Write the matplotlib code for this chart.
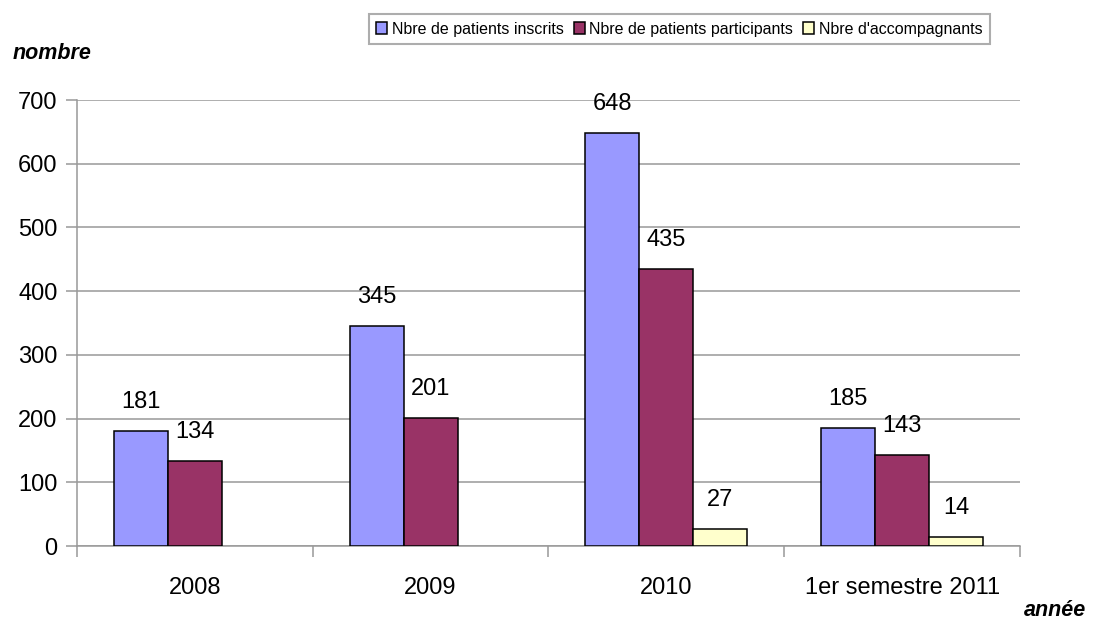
import numpy as np
import matplotlib.pyplot as plt

plt.rcParams['font.family'] = ['Liberation Sans', 'DejaVu Sans']

categories = ['2008', '2009', '2010', '1er semestre 2011']
inscrits = [181, 345, 648, 185]
participants = [134, 201, 435, 143]
accompagnants = [0, 0, 27, 14]
series_names = ['Nbre de patients inscrits', 'Nbre de patients participants',
                "Nbre d'accompagnants"]
colors = ['#9999FF', '#993366', '#FFFFCC']

fig = plt.figure(figsize=(10.93, 6.19), dpi=100)
ax = fig.add_axes([0.0704, 0.1179, 0.8628, 0.7205])

ind = np.arange(len(categories))
width = 0.229
grey = '#999999'

bars = []
for i, (vals, name, c) in enumerate(zip([inscrits, participants, accompagnants],
                                        series_names, colors)):
    # zero values are not drawn
    heights = [v if v else np.nan for v in vals]
    r = ax.bar(ind + (i - 1) * width, heights, width, color=c, edgecolor='black',
               linewidth=1.1, label=name, zorder=3)
    bars.append(r)
    for rect, v in zip(r, vals):
        if v == 0:
            continue
        ax.annotate(str(v), (rect.get_x() + rect.get_width() / 2, v),
                    xytext=(0, 13), textcoords='offset points',
                    ha='center', va='bottom', fontsize=17)

ax.set_xlim(-0.5, len(categories) - 0.5)
ax.set_ylim(0, 700)
ax.set_yticks(range(0, 701, 100))
ax.yaxis.grid(True, color=grey, linewidth=1.1, zorder=0)
ax.set_axisbelow(True)

# category boundaries as ticks, labels at centers
ax.set_xticks(np.arange(-0.5, len(categories)), minor=False)
ax.set_xticklabels([])
ax.set_xticks(ind, minor=True)
ax.set_xticklabels(categories, minor=True, fontsize=17)
ax.tick_params(axis='x', which='minor', length=0, pad=22)
ax.tick_params(axis='x', which='major', length=8, width=1.1, color=grey)
ax.tick_params(axis='y', length=8, width=1.1, color=grey, labelsize=17, pad=6)

for s in ['top', 'right']:
    ax.spines[s].set_visible(False)
for s in ['left', 'bottom']:
    ax.spines[s].set_color(grey)
    ax.spines[s].set_linewidth(1.1)

fig.text(0.012, 0.905, 'nombre', fontsize=15.5, fontweight='bold', fontstyle='italic')
fig.text(0.994, 0.005, 'année', fontsize=15.5, fontweight='bold', fontstyle='italic',
         ha='right')

leg = fig.legend(handles=bars, labels=series_names, loc='center',
                 bbox_to_anchor=(0.6215, 0.953), ncol=3, fontsize=11.5,
                 frameon=True, fancybox=False, edgecolor=grey,
                 handlelength=0.7, handleheight=0.7, handletextpad=0.3,
                 columnspacing=0.6, borderpad=0.45)
leg.get_frame().set_linewidth(1.5)

fig.savefig('out.png', dpi=100)
